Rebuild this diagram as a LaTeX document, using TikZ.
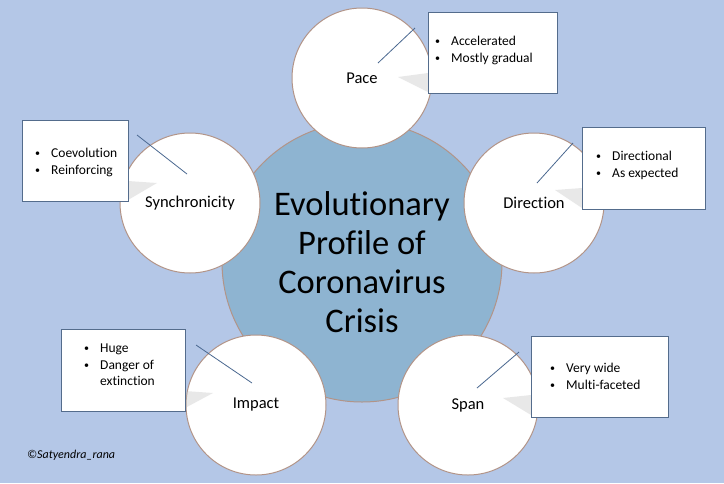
\documentclass[tikz,border=0pt]{standalone}
\usepackage{fontspec}
\setmainfont[Ligatures={NoCommon}]{Carlito}
\usetikzlibrary{positioning,calc}
\definecolor{bgblue}{RGB}{180,199,231}
\definecolor{hubblue}{RGB}{142,180,209}
\definecolor{rim}{RGB}{178,148,136}
\definecolor{boxline}{RGB}{84,108,140}
\definecolor{leadcol}{RGB}{74,104,144}
\tikzset{hub/.style={circle,draw=rim,line width=1pt,fill=hubblue,minimum size=280pt,
    inner sep=0pt,align=center,font=\fontsize{34.5}{39}\selectfont},
  petal/.style={circle,draw=rim,line width=1pt,fill=white,minimum size=140pt,
    inner sep=0pt,font=\fontsize{16.5}{20}\selectfont},
  note/.style n args={2}{draw=boxline,fill=white,line width=0.8pt,anchor=north west,
    minimum width=#1,minimum height=#2,inner sep=0pt},
  items/.style={anchor=base west,inner sep=0pt,font=\fontsize{13.5}{16.5}\selectfont},
  leader/.style={draw=leadcol,line width=0.8pt},
  wedge/.style={fill=black!25,opacity=0.35}
}
\newcommand{\itm}{\makebox[16pt][l]{\raisebox{0.8pt}{\fontsize{10}{10}\selectfont\textbullet}}}
\begin{document}
\begin{tikzpicture}[x=1pt,y=-1pt]
	\fill[bgblue] (0,0) rectangle (724,483);
	\useasboundingbox (0,0) rectangle (724,483);
	\node[hub] (C) at (362,262) {Evolutionary\\Profile of\\Coronavirus\\Crisis};
	\node[petal] (P1) at (362,78) {Pace};
	\node[petal] (P2) at (534,203) {Direction};
	\node[petal] (P3) at (468,405) {Span};
	\node[petal] (P4) at (256,405) {Impact};
	\node[petal] (P5) at (190,203) {Synchronicity};
	\fill[wedge] (398,77) -- (428,73) -- (428,92) -- cycle;
	\fill[wedge] (555,190) -- (582,188) -- (582,208) -- cycle;
	\fill[wedge] (503,398) -- (531,395) -- (531,415) -- cycle;
	\fill[wedge] (213,393) -- (185,391) -- (185,408) -- cycle;
	\fill[wedge] (157,183) -- (128,181) -- (128,200) -- cycle;
	\node[note={129pt}{81pt}] (B1) at (428,12) {};
	\node[note={123pt}{82pt}] (B2) at (582,127) {};
	\node[note={137pt}{81pt}] (B3) at (531,336) {};
	\node[note={124pt}{82pt}] (B4) at (61,329) {};
	\node[note={106pt}{81pt}] (B5) at (22,120) {};
	\node[items] (T1) at ($(B1.north west)+(7,33.5)$) {\begin{tabular}[t]{@{}l@{}}\itm Accelerated\\\itm Mostly gradual\end{tabular}};
	\node[items] (T2) at ($(B2.north west)+(14,33.5)$) {\begin{tabular}[t]{@{}l@{}}\itm Directional\\\itm As expected\end{tabular}};
	\node[items] (T3) at ($(B3.north west)+(19,36.5)$) {\begin{tabular}[t]{@{}l@{}}\itm Very wide\\\itm Multi-faceted\end{tabular}};
	\node[items] (T4) at ($(B4.north west)+(23,23.5)$) {\begin{tabular}[t]{@{}l@{}}\itm Huge\\\itm Danger of\\\hspace*{16pt}extinction\end{tabular}};
	\node[items] (T5) at ($(B5.north west)+(13,37.5)$) {\begin{tabular}[t]{@{}l@{}}\itm Coevolution\\\itm Reinforcing\end{tabular}};
	\coordinate (L1a) at (378,63);  \coordinate (L1b) at (415,28);
	\coordinate (L2a) at (537,183); \coordinate (L2b) at (573,143);
	\coordinate (L3a) at (477,388); \coordinate (L3b) at (519,352);
	\coordinate (L4a) at (252,383); \coordinate (L4b) at (196,345);
	\coordinate (L5a) at (187,174); \coordinate (L5b) at (137,135);
	\draw[leader] (L1a) -- (L1b);
	\draw[leader] (L2a) -- (L2b);
	\draw[leader] (L3a) -- (L3b);
	\draw[leader] (L4a) -- (L4b);
	\draw[leader] (L5a) -- (L5b);
	\node[anchor=west,inner sep=0pt,font=\fontsize{12}{14}\selectfont\itshape] (cr) at (27,455) {\textcopyright Satyendra\_rana};
\end{tikzpicture}
\end{document}
